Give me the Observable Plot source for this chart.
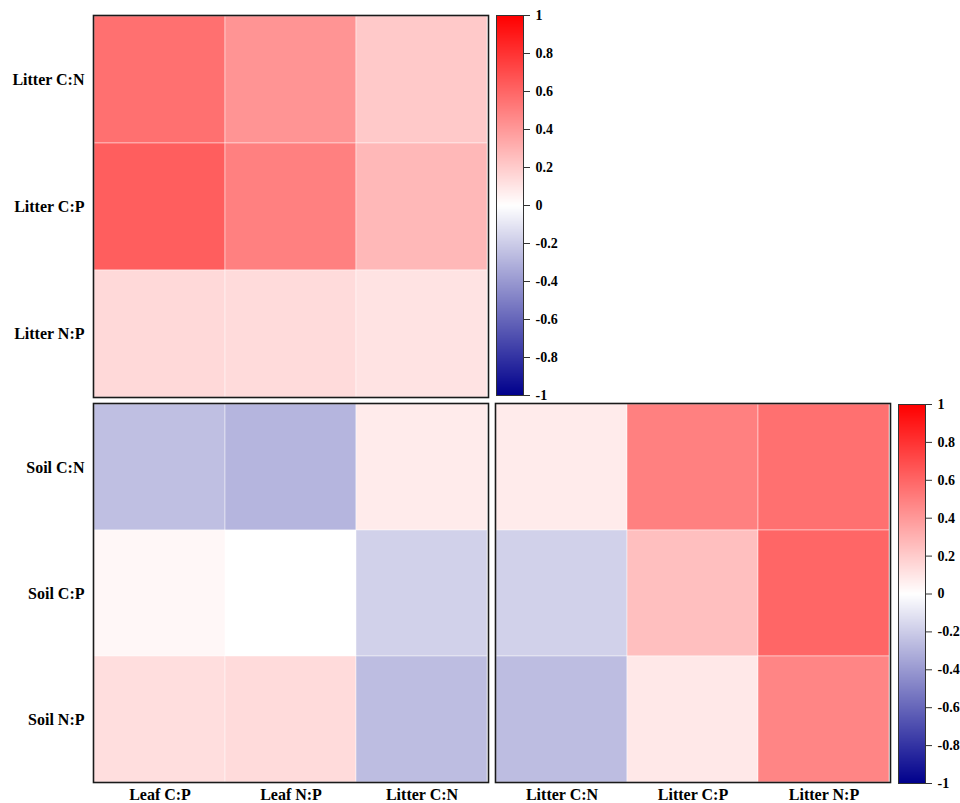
<!DOCTYPE html>
<html>
<head>
<meta charset="utf-8">
<script src="https://cdn.jsdelivr.net/npm/d3@7"></script>
<script src="https://cdn.jsdelivr.net/npm/@observablehq/plot@0.6"></script>
<style>
  html, body { margin: 0; padding: 0; background: #fff; overflow: hidden; }
  #wrap { position: relative; width: 960px; height: 803px; }
  #wrap > div, #wrap > svg { position: absolute; }
  #wrap svg { overflow: visible; }
</style>
</head>
<body>
<div id="wrap"></div>
<script>
// ---- data ----
const litterRows = ["Litter C:N", "Litter C:P", "Litter N:P"];
const soilRows = ["Soil C:N", "Soil C:P", "Soil N:P"];
const leftCols = ["Leaf C:P", "Leaf N:P", "Litter C:N"];
const rightCols = ["Litter C:N", "Litter C:P", "Litter N:P"];

// correlation values, rows x cols
const topValues = [
  [0.56, 0.42, 0.21],
  [0.63, 0.50, 0.28],
  [0.15, 0.14, 0.11]
];
const bottomLeftValues = [
  [-0.25, -0.29, 0.08],
  [0.03, 0.00, -0.18],
  [0.13, 0.14, -0.26]
];
const bottomRightValues = [
  [0.08, 0.50, 0.56],
  [-0.18, 0.25, 0.60],
  [-0.26, 0.09, 0.48]
];
const colorbarTicks = [-1, -0.8, -0.6, -0.4, -0.2, 0, 0.2, 0.4, 0.6, 0.8, 1];

// ---- helpers ----
function toTable(rows, cols, values) {
  const out = [];
  rows.forEach((r, i) => cols.forEach((c, j) => out.push({row: r, col: c, v: values[i][j]})));
  return out;
}
const colorOpts = {type: "linear", domain: [-1, 0, 1], range: ["#00008c", "#ffffff", "#ff0000"], interpolate: "rgb"};
const fontStyle = {fontFamily: "'Liberation Serif', 'Times New Roman', serif", fontWeight: "bold", fontSize: "16px", color: "#000", background: "transparent", overflow: "visible"};
const wrap = document.getElementById("wrap");
function place(el, left, top) {
  el.style.left = left + "px";
  el.style.top = top + "px";
  wrap.appendChild(el);
}

function panel({rows, cols, values, width, height, mt, mr, mb, ml, showY, showX}) {
  return Plot.plot({
    width, height,
    marginTop: mt, marginRight: mr, marginBottom: mb, marginLeft: ml,
    style: fontStyle,
    x: {domain: cols, padding: 0, axis: showX ? "bottom" : null, tickSize: 0, tickPadding: 6, label: null},
    y: {domain: rows, padding: 0, axis: showY ? "left" : null, tickSize: 0, tickPadding: 9, label: null},
    color: colorOpts,
    marks: [
      Plot.cell(toTable(rows, cols, values), {x: "col", y: "row", fill: "v", stroke: "#ffffff", strokeWidth: 0.8, strokeOpacity: 0.55}),
      Plot.frame({stroke: "#1a1a1a", strokeWidth: 1.6})
    ]
  });
}

function colorbar({width, height, mt, mr, mb, ml}) {
  return Plot.plot({
    width, height,
    marginTop: mt, marginRight: mr, marginBottom: mb, marginLeft: ml,
    style: {...fontStyle, fontSize: "14px"},
    x: {domain: [0, 1], axis: null},
    y: {domain: [-1, 1], axis: null},
    color: colorOpts,
    marks: [
      Plot.raster({fill: (x, y) => y, x1: 0, x2: 1, y1: -1, y2: 1, pixelSize: 1, imageRendering: "auto"}),
      Plot.frame({stroke: "#333", strokeWidth: 1}),
      Plot.axisY(colorbarTicks, {anchor: "right", tickSize: 6, tickPadding: 6, tickFormat: d => String(d), label: null, stroke: "#333"})
    ]
  });
}

// ---- panels ----
place(panel({rows: litterRows, cols: leftCols, values: topValues, width: 490, height: 400, mt: 15, mr: 2, mb: 3, ml: 93, showY: true, showX: false}), 0, 0);
place(colorbar({width: 80, height: 400, mt: 15, mr: 47, mb: 5, ml: 6}), 490, 0);
place(panel({rows: soilRows, cols: leftCols, values: bottomLeftValues, width: 490, height: 403, mt: 3, mr: 2, mb: 21, ml: 93, showY: true, showX: true}), 0, 400);
place(panel({rows: soilRows, cols: rightCols, values: bottomRightValues, width: 402, height: 403, mt: 3, mr: 2, mb: 21, ml: 5, showY: false, showX: true}), 490, 400);
place(colorbar({width: 68, height: 403, mt: 4, mr: 35, mb: 20, ml: 6}), 892, 400);
</script>
</body>
</html>
